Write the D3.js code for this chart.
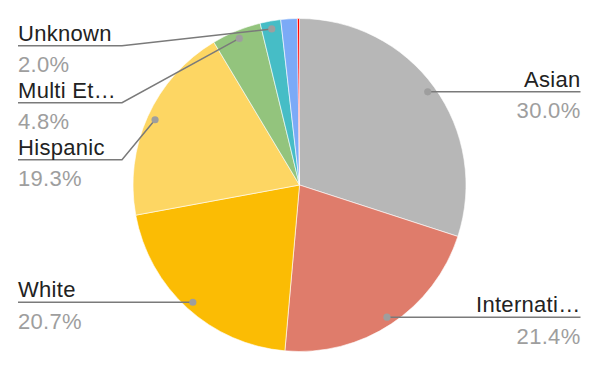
<!DOCTYPE html>
<html>
<head>
<meta charset="utf-8">
<script src="https://cdn.jsdelivr.net/npm/d3@7"></script>
<style>
  body { margin: 0; background: #fff; }
  text { font-family: "Liberation Sans", Arial, sans-serif; letter-spacing: 0.3px; }
</style>
</head>
<body>
<div id="chart"></div>
<script>
// slices clockwise from 12 o'clock; the last two are too small to be labelled
var categories = ["Asian", "Internati\u2026", "White", "Hispanic", "Multi Et\u2026", "Unknown", "", ""];
var values = [30.0, 21.4, 20.7, 19.3, 4.8, 2.0, 1.6, 0.2];
var colors = ["#b7b7b7", "#df7c6b", "#fbbc04", "#fdd663", "#93c47d", "#46bdc6", "#7baaf7", "#ff0000"];

var w = 600, h = 371;
var cx = 299.5, cy = 185, rad = 166.5;

var svg = d3.select("#chart").append("svg")
  .attr("width", w)
  .attr("height", h);

var data = values.map(function (v, i) {
  return { name: categories[i], value: v, color: colors[i] };
});

var pie = d3.pie().sort(null).value(function (d) { return d.value; });
var arcs = pie(data);

var arc = d3.arc().innerRadius(0).outerRadius(rad);
var dotArc = d3.arc().innerRadius(rad - 8).outerRadius(rad - 8);

var g = svg.append("g").attr("transform", "translate(" + cx + "," + cy + ")");

g.selectAll(".slice")
  .data(arcs)
  .enter()
  .append("path")
  .attr("class", "slice")
  .attr("d", arc)
  .attr("fill", function (d) { return d.data.color; })
  .attr("stroke", "#fff")
  .attr("stroke-width", 0.6);

// label placement
var labelled = arcs.filter(function (d) { return d.data.name; });
labelled.forEach(function (d) {
  var c = dotArc.centroid(d);
  d.dx = c[0] + cx;
  d.dy = c[1] + cy;
  d.side = (d.startAngle + d.endAngle) / 2 < Math.PI ? "right" : "left";
  d.ly = d.dy;
});

// push left labels down so they don't overlap (top to bottom)
var left = labelled.filter(function (d) { return d.side == "left"; })
  .sort(function (a, b) { return a.dy - b.dy; });
var prev = -Infinity;
left.forEach(function (d) {
  d.ly = Math.max(d.dy, prev + 57, 45.7);
  prev = d.ly;
});

var lx0 = 18, knee = 122, rx1 = 580.5;

var lab = svg.append("g");

labelled.forEach(function (d) {
  var pts;
  if (d.side == "left") {
    pts = [[lx0, d.ly], [knee, d.ly], [d.dx, d.dy]];
  } else {
    pts = [[d.dx, d.dy], [rx1, d.ly]];
  }
  lab.append("path")
    .attr("d", d3.line()(pts))
    .attr("fill", "none")
    .attr("stroke", "#7a7a7a")
    .attr("stroke-width", 1.5);
  lab.append("circle")
    .attr("cx", d.dx)
    .attr("cy", d.dy)
    .attr("r", 3.6)
    .attr("fill", "#9e9e9e");

  var tx = d.side == "left" ? lx0 : rx1;
  var anchor = d.side == "left" ? "start" : "end";
  lab.append("text")
    .attr("x", tx)
    .attr("y", d.ly - 5)
    .attr("text-anchor", anchor)
    .attr("font-size", "22px")
    .attr("fill", "#222")
    .text(d.data.name);
  lab.append("text")
    .attr("x", tx)
    .attr("y", d.ly + 26.5)
    .attr("text-anchor", anchor)
    .attr("font-size", "22px")
    .attr("fill", "#9e9e9e")
    .text(d.data.value.toFixed(1) + "%");
});
</script>
</body>
</html>
